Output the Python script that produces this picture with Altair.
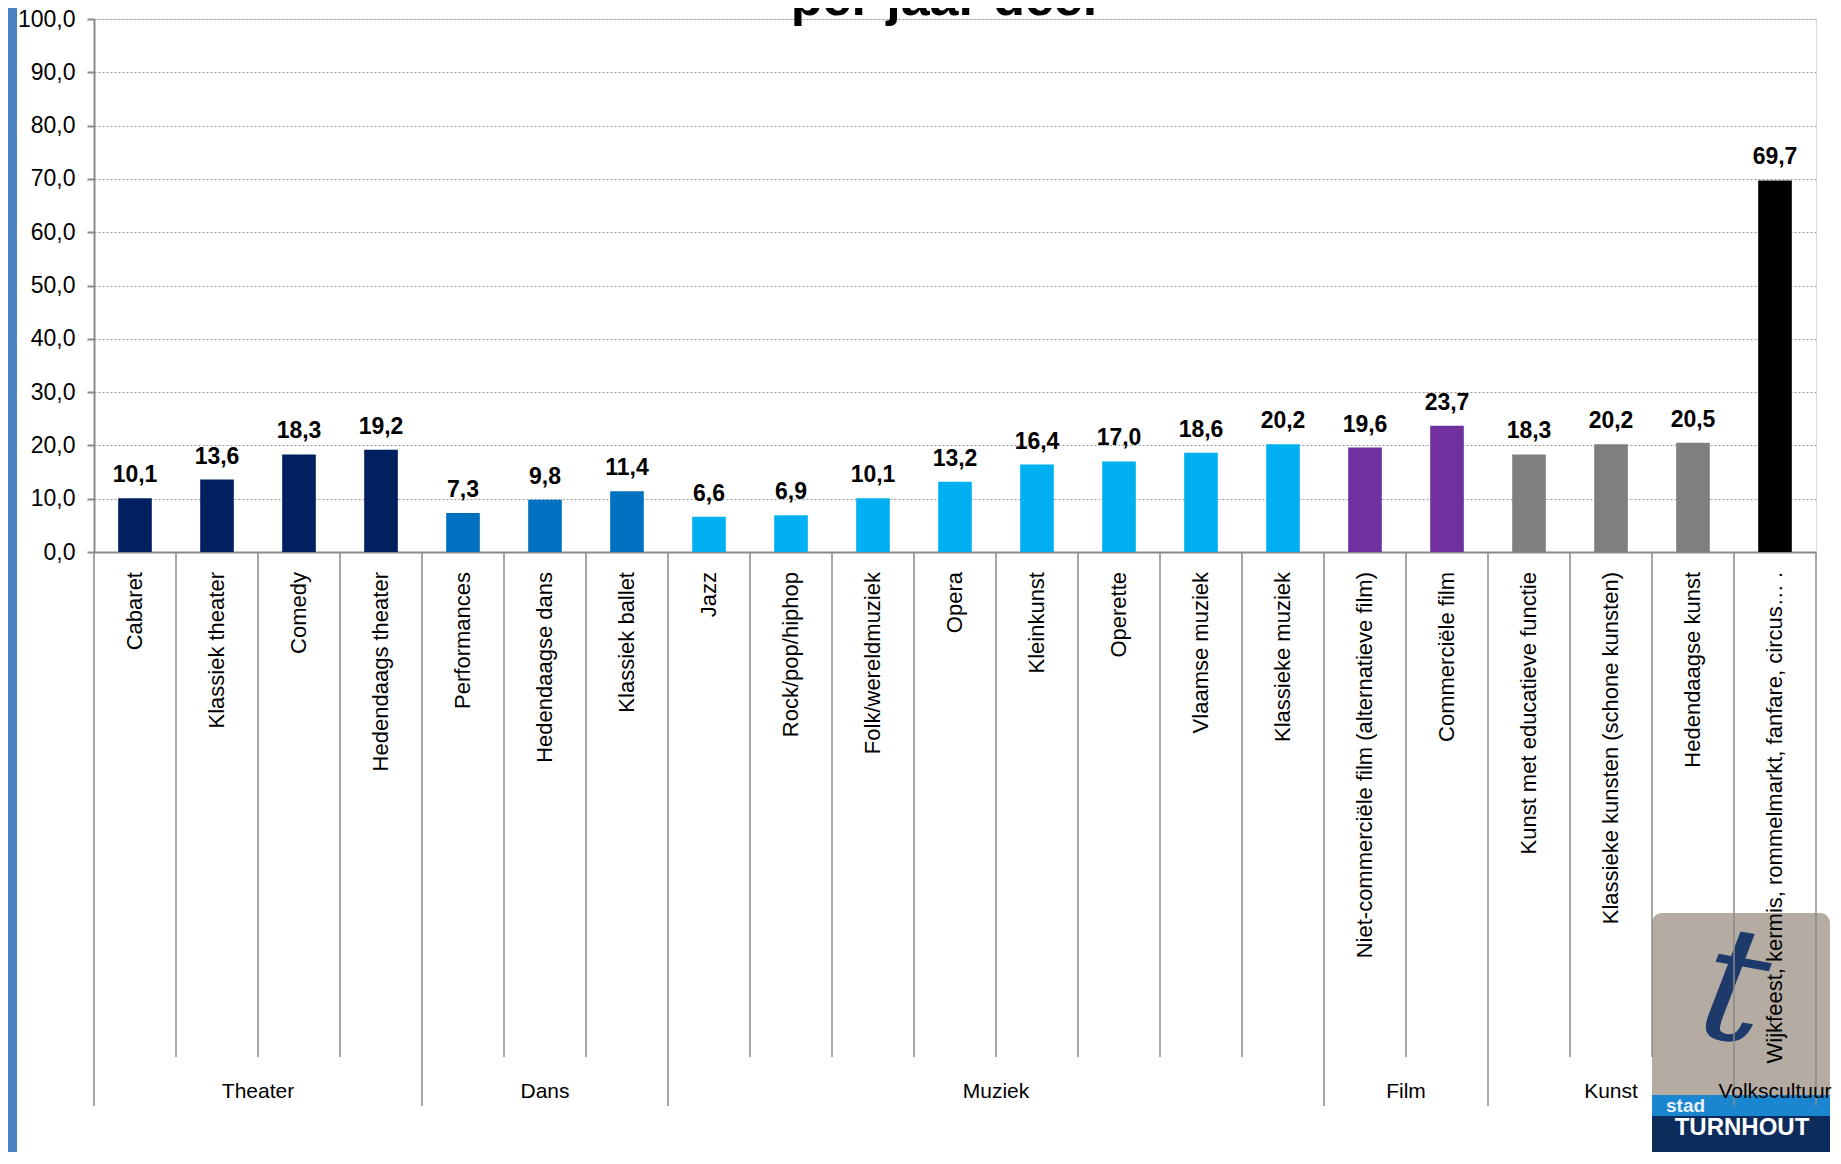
import altair as alt
import pandas as pd

categories = [
    "Cabaret", "Klassiek theater", "Comedy", "Hedendaags theater",
    "Performances", "Hedendaagse dans", "Klassiek ballet",
    "Jazz", "Rock/pop/hiphop", "Folk/wereldmuziek", "Opera", "Kleinkunst",
    "Operette", "Vlaamse muziek", "Klassieke muziek",
    "Niet-commerciële film (alternatieve film)", "Commerciële film",
    "Kunst met educatieve functie", "Klassieke kunsten (schone kunsten)",
    "Hedendaagse kunst",
    "Wijkfeest, kermis, rommelmarkt, fanfare, circus… .",
]
values = [10.1, 13.6, 18.3, 19.2, 7.3, 9.8, 11.4, 6.6, 6.9, 10.1, 13.2, 16.4,
          17.0, 18.6, 20.2, 19.6, 23.7, 18.3, 20.2, 20.5, 69.7]
groups = ["Theater"] * 4 + ["Dans"] * 3 + ["Muziek"] * 8 + ["Film"] * 2 + \
         ["Kunst"] * 3 + ["Volkscultuur"]
group_names = ["Theater", "Dans", "Muziek", "Film", "Kunst", "Volkscultuur"]
group_colors = ["#002060", "#0070C0", "#00B0F0", "#7030A0", "#7F7F7F", "#000000"]
y_ticks = [0, 10, 20, 30, 40, 50, 60, 70, 80, 90, 100]
title_text = "per jaar deel"

SANS = "Liberation Sans, Arial, sans-serif"
GRAY = "#8A8A8A"

W, H = 1722, 533

df = pd.DataFrame({"cat": categories, "val": values, "grp": groups})
df["lbl"] = [f"{v:.1f}".replace(".", ",") for v in values]

n = len(categories)
sep_rows = []
for i in range(n + 1):
    is_group = i == 0 or i == n or groups[i] != groups[i - 1]
    sep_rows.append({"pos": i, "kind": "group" if is_group else "item"})
sep = pd.DataFrame(sep_rows)

gl_rows = []
start = 0
for i in range(1, n + 1):
    if i == n or groups[i] != groups[i - 1]:
        gl_rows.append({"grp": groups[start], "mid": (start + i) / 2})
        start = i
gl = pd.DataFrame(gl_rows)

one = pd.DataFrame({"a": [0]})

xs_band = alt.Scale(paddingInner=0.59, paddingOuter=0.295)
xs_q = alt.Scale(domain=[0, n], nice=False, zero=False)
color = alt.Color("grp:N", scale=alt.Scale(domain=group_names, range=group_colors), legend=None)

# decorations (slide background / logo)
strip = alt.Chart(one).mark_rect(color="#4A82C6").encode(
    x=alt.value(-86), x2=alt.value(-77), y=alt.value(-11), y2=alt.value(1140))
LY = -12
logo_bg = alt.Chart(one).mark_rect(color="#B4ACA2", cornerRadius=10).encode(
    x=alt.value(1558), x2=alt.value(1736), y=alt.value(906 + LY), y2=alt.value(1110 + LY))
logo_blue = alt.Chart(one).mark_rect(color="#1A86CF").encode(
    x=alt.value(1558), x2=alt.value(1736), y=alt.value(1088 + LY), y2=alt.value(1109 + LY))
logo_navy = alt.Chart(one).mark_rect(color="#0C2C5C").encode(
    x=alt.value(1558), x2=alt.value(1736), y=alt.value(1109 + LY), y2=alt.value(1150))
logo_t = alt.Chart(one).mark_text(font="DejaVu Serif", fontSize=160, fontStyle="italic",
                                  color="#1E3A6A", baseline="middle",
                                  align="center", angle=10).encode(
    x=alt.value(1640), y=alt.value(985 + LY), text=alt.value("t"))
logo_stad = alt.Chart(one).mark_text(font=SANS, fontSize=19, fontWeight="bold", color="#E8F2FA",
                                     align="left", baseline="middle").encode(
    x=alt.value(1572), y=alt.value(1099 + LY), text=alt.value("stad"))
logo_turn = alt.Chart(one).mark_text(font=SANS, fontSize=24, fontWeight="bold", color="white",
                                     align="center", baseline="middle").encode(
    x=alt.value(1648), y=alt.value(1121 + LY), text=alt.value("TURNHOUT"))

title = alt.Chart(one).mark_text(font=SANS, fontSize=52, fontWeight="bold", color="black",
                                 align="center", baseline="alphabetic").encode(
    x=alt.value(850), y=alt.value(-4), text=alt.value(title_text))

bars = alt.Chart(df).mark_bar().encode(
    x=alt.X("cat:N", sort=categories, scale=xs_band,
            axis=alt.Axis(labels=False, ticks=False, title=None, domainColor=GRAY,
                          domainWidth=2, grid=False)),
    y=alt.Y("val:Q", scale=alt.Scale(domain=[0, 100], nice=False),
            axis=alt.Axis(values=y_ticks, title=None,
                          labelExpr="replace(format(datum.value, '.1f'), '.', ',')",
                          labelFont=SANS, labelFontSize=23, labelColor="black",
                          labelPadding=12, tickSize=7, tickColor=GRAY, tickWidth=2,
                          domainColor=GRAY, domainWidth=2,
                          gridColor="#9A9A9A", gridDash=[2, 2], gridWidth=1)),
    color=color,
)

vlabels = alt.Chart(df).mark_text(font=SANS, fontSize=23, fontWeight="bold", color="black",
                                  baseline="alphabetic", dy=-16).encode(
    x=alt.X("cat:N", sort=categories, scale=xs_band, axis=None),
    y=alt.Y("val:Q"),
    text="lbl:N",
)

cat_labels = alt.Chart(df).mark_text(font=SANS, fontSize=22, color="black", angle=270,
                                     align="right", baseline="middle").encode(
    x=alt.X("cat:N", sort=categories, scale=xs_band, axis=None),
    y=alt.value(H + 20),
    text="cat:N",
)

item_sep = alt.Chart(sep).transform_filter("datum.kind == 'item'").mark_rule(
    color=GRAY, strokeWidth=1.5).encode(
    x=alt.X("pos:Q", scale=xs_q, axis=None),
    y=alt.value(H), y2=alt.value(1038))
group_sep = alt.Chart(sep).transform_filter("datum.kind == 'group'").mark_rule(
    color=GRAY, strokeWidth=1.5).encode(
    x=alt.X("pos:Q", scale=xs_q, axis=None),
    y=alt.value(H), y2=alt.value(1087))
group_labels = alt.Chart(gl).mark_text(font=SANS, fontSize=21, color="black",
                                       baseline="middle", align="center").encode(
    x=alt.X("mid:Q", scale=xs_q, axis=None),
    y=alt.value(1073),
    text="grp:N")

chart = alt.layer(
    strip, logo_bg, logo_blue, logo_navy, logo_t, logo_stad, logo_turn,
    bars, vlabels, cat_labels, item_sep, group_sep, group_labels, title,
).resolve_scale(x="independent").properties(
    width=W, height=H,
    autosize=alt.AutoSizeParams(type="none"),
    padding={"left": 86, "top": 11, "right": 17, "bottom": 600},
).configure_view(stroke=None).configure(background="white")

chart.save("out.html", embed_options={"renderer": "svg", "actions": False})
